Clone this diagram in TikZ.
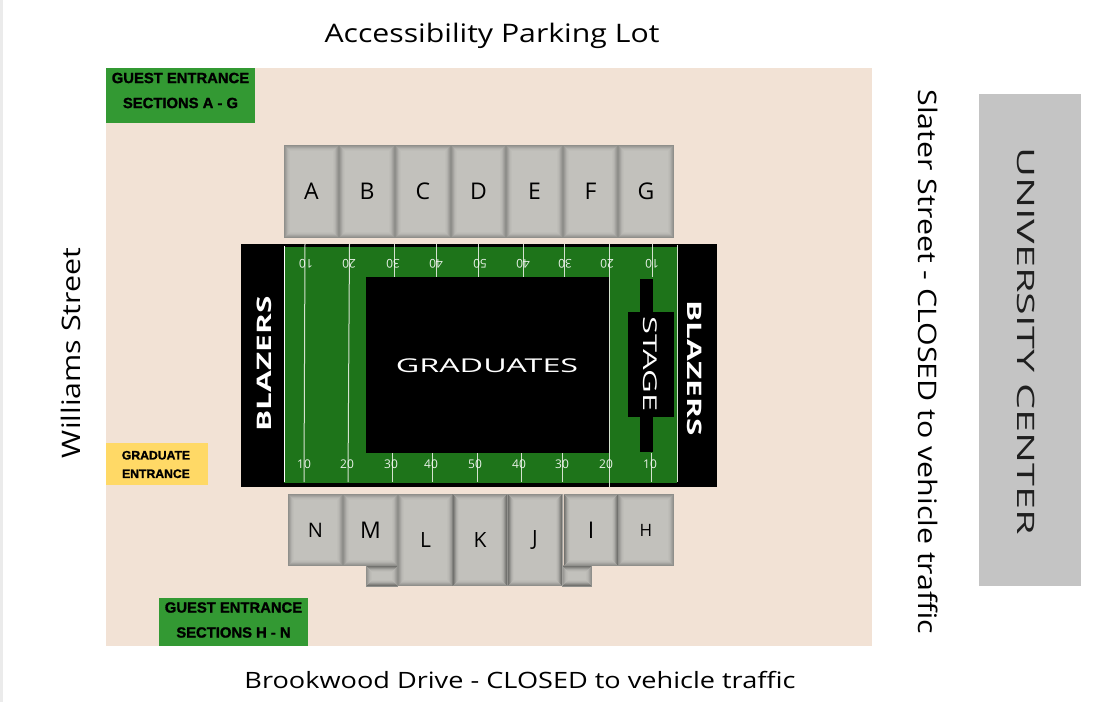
\documentclass[tikz,border=0pt]{standalone}
\usepackage{fontspec}
\setmainfont{Open Sans}
\newfontfamily\heavyfont[BoldFeatures={FakeBold=1.4}]{Liberation Sans}
\definecolor{lotbeige}{HTML}{F2E2D5}
\definecolor{entrygreen}{HTML}{339933}
\definecolor{entryyellow}{HTML}{FFD966}
\definecolor{fieldgreen}{HTML}{1E741A}
\definecolor{seatgrey}{HTML}{C2C1BC}
\definecolor{ucgrey}{HTML}{C4C4C4}
\definecolor{yardline}{HTML}{D5E2D0}
\tikzset{
    seatblock/.style={inner sep=0pt, fill=seatgrey, text=black, font=\fontsize{23}{23}\selectfont,
        path picture={
            \foreach \d/\o in {0.5/0.26, 1.5/0.20, 2.5/0.14, 3.5/0.08, 4.5/0.04, 5.5/0.02}
                \draw [black, line width=1.05pt, opacity=\o]
                    ([shift={(\d pt,\d pt)}]path picture bounding box.south west) rectangle
                    ([shift={(-\d pt,-\d pt)}]path picture bounding box.north east);
        }},
    streetlabel/.style={font=\fontsize{25.5}{26}\selectfont, text=black},
    entrylabel/.style={font=\heavyfont\bfseries\fontsize{14.8}{25}\selectfont, align=center, text=black, inner sep=0pt},
    yardnum/.style={font=\fontsize{12}{12}\selectfont, text=white, inner sep=0pt, opacity=0.9},
    yard/.style={yardline, line width=1pt}
}
\begin{document}
\begin{tikzpicture}[x=1pt, y=-1pt]
    \useasboundingbox (0, 0) rectangle (1120, 702);
    \fill [white] (0, 0) rectangle (1120, 702);
    \fill [black!8] (0, 0) rectangle (3, 702);
    % lot and entrances
    \fill [lotbeige] (106, 68) rectangle (872, 646);
    \fill [entrygreen] (106, 68) rectangle (255, 123);
    \fill [entrygreen] (159, 598) rectangle (308, 646);
    \fill [entryyellow] (106, 443) rectangle (208, 485);
    \node [entrylabel] (guestag) at (180.5, 90.5) {GUEST ENTRANCE\\SECTIONS A - G};
    \node [entrylabel] (guesthn) at (233.5, 620) {GUEST ENTRANCE\\SECTIONS H - N};
    \node [entrylabel, font=\heavyfont\bfseries\fontsize{12.2}{18.5}\selectfont] (gradentry) at (156, 464.5) {GRADUATE\\ENTRANCE};
    % field
    \fill [black] (241, 244) rectangle (717, 487);
    \fill [fieldgreen] (284, 247) rectangle (677, 483);
    \fill [black] (366, 277) rectangle (609, 453);
    \fill [black] (640, 279) rectangle (653, 452);
    \fill [black] (628, 312) rectangle (674, 417);
    % yard lines, top and bottom
    \draw [white, line width=1pt] (284, 246) to (284, 482);
    \draw [yard] (677, 245) to (677, 482);
    \draw [yard] (305, 244) to (304, 482);
    \draw [yard] (349.5, 244) to (348, 482);
    \draw [yard] (609, 277) to (609, 487);
    \foreach \xa in {394, 436, 478, 523, 564, 609, 652}
        \draw [yard] (\xa, 244) to (\xa, 277);
    \foreach \xb in {392, 432, 477, 521.5, 562, 651}
        \draw [yard] (\xb, 453) to (\xb, 482);
    \foreach \xc/\t [count=\i] in {306/10, 349/20, 393/30, 436/40, 480/50, 523/40, 565/30, 607/20, 652/10}
        \node [yardnum, rotate=180] (top\i) at (\xc, 264) {\t};
    \foreach \xd/\t [count=\i] in {304/10, 347/20, 391/30, 431/40, 475/50, 519/40, 562/30, 606/20, 650/10}
        \node [yardnum] (bot\i) at (\xd, 464) {\t};
    % field words
    \node [text=white, font=\bfseries\fontsize{20}{20}\selectfont, rotate=90] (blazersl) at (264, 364) {\scalebox{1.58}[1]{BLAZERS}};
    \node [text=white, font=\bfseries\fontsize{20}{20}\selectfont, rotate=-90] (blazersr) at (695, 368) {\scalebox{1.58}[1]{BLAZERS}};
    \node [text=white, font=\fontsize{19}{19}\selectfont] (grads) at (487, 366) {\scalebox{1.7}[1]{GRADUATES}};
    \node [text=white, font=\fontsize{19}{19}\selectfont, rotate=-90] (stage) at (650, 364) {\scalebox{1.72}[1]{STAGE}};
    % north sections
    \foreach \name/\xl/\xr in {A/284/339, B/339/395, C/395/451, D/451/506, E/506/563, F/563/618, G/618/674}
        \node [seatblock, minimum width=\xr pt-\xl pt, minimum height=93pt] (\name) at ({(\xl+\xr)/2}, 191.5) {\name};
    % south sections
    \node [seatblock, minimum width=32pt, minimum height=21pt] (tabl) at (382, 576) {};
    \node [seatblock, minimum width=30pt, minimum height=21pt] (tabr) at (577, 576) {};
    \node [seatblock, minimum width=55pt, minimum height=72pt, font=\fontsize{20}{20}\selectfont] (N) at (315.5, 530) {N};
    \node [seatblock, minimum width=55pt, minimum height=72pt] (M) at (370.5, 530) {M};
    \node [seatblock, minimum width=55pt, minimum height=92pt, font=\fontsize{21}{21}\selectfont] (L) at (425.5, 540) {L};
    \node [seatblock, minimum width=55pt, minimum height=92pt, font=\fontsize{21}{21}\selectfont] (K) at (480, 540) {K};
    \node [seatblock, minimum width=55pt, minimum height=92pt, font=\fontsize{21}{21}\selectfont] (J) at (535, 540) {J};
    \node [seatblock, minimum width=55pt, minimum height=72pt] (I) at (591, 530) {I};
    \node [seatblock, minimum width=56pt, minimum height=72pt, font=\fontsize{17}{17}\selectfont] (H) at (646, 530) {H};
    % streets
    \node [streetlabel] (north) at (492, 36) {\scalebox{1.185}[1]{Accessibility Parking Lot}};
    \node [streetlabel, font=\fontsize{22.5}{23}\selectfont] (south) at (520, 680) {\scalebox{1.205}[1]{Brookwood Drive - CLOSED to vehicle traffic}};
    \node [streetlabel, rotate=90] (west) at (71, 353) {\scalebox{1.19}[1]{Williams Street}};
    \node [streetlabel, rotate=-90] (east) at (928, 362) {\scalebox{1.19}[1]{Slater Street - CLOSED to vehicle traffic}};
    % university center
    \fill [ucgrey] (979, 94) rectangle (1081, 586);
    \node [streetlabel, rotate=-90, font=\fontsize{24}{24}\selectfont, text=black!88] (uc) at (1026, 341) {\scalebox{1.72}[1]{UNIVERSITY CENTER}};
\end{tikzpicture}
\end{document}
